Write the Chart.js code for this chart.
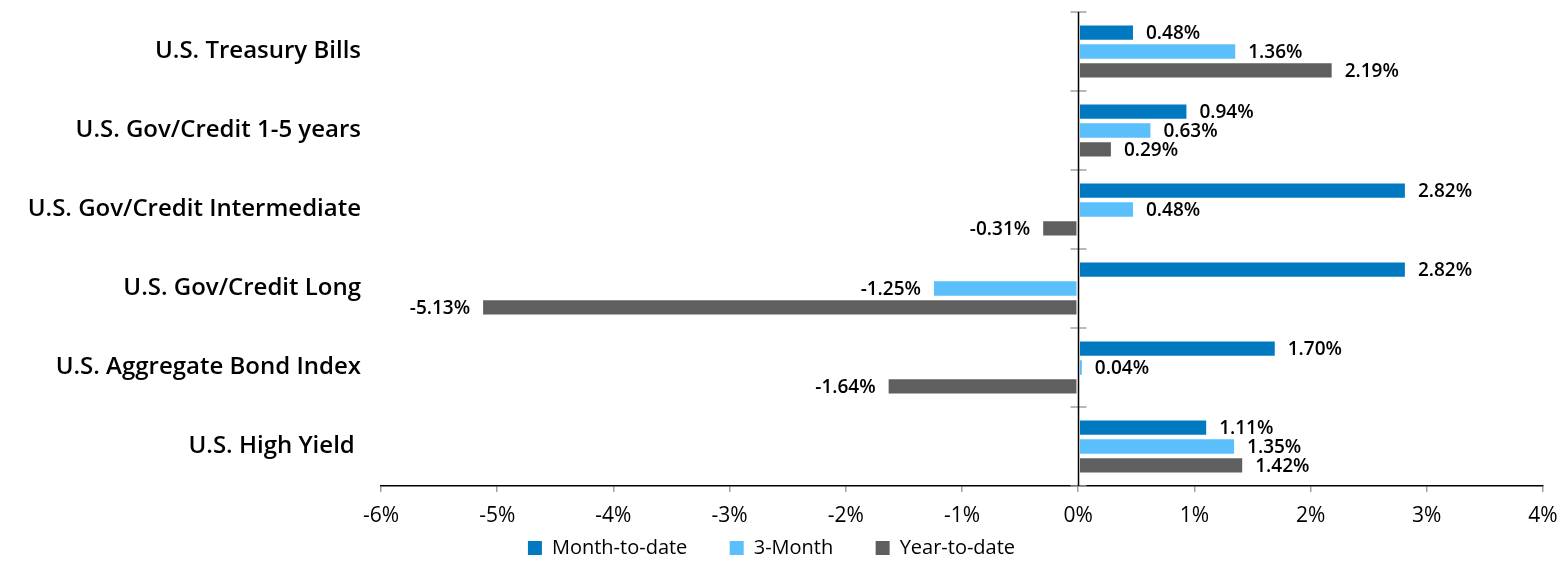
<!DOCTYPE html>
<html>
<head>
<meta charset="utf-8">
<script src="https://cdn.jsdelivr.net/npm/chart.js@4.4.1/dist/chart.umd.min.js"></script>
<style>
  html, body { margin: 0; padding: 0; background: #fff; }
  #wrap { width: 1565px; height: 565px; }
</style>
</head>
<body>
<div id="wrap"><canvas id="chart"></canvas></div>
<script>
// data
var categories = [
  "U.S. Treasury Bills",
  "U.S. Gov/Credit 1-5 years",
  "U.S. Gov/Credit Intermediate",
  "U.S. Gov/Credit Long",
  "U.S. Aggregate Bond Index",
  "U.S. High Yield "
];
var seriesNames = ["Month-to-date", "3-Month", "Year-to-date"];
var monthToDate = [0.48, 0.94, 2.82, 2.82, 1.70, 1.11];
var threeMonth = [1.36, 0.63, 0.48, -1.25, 0.04, 1.35];
var yearToDate = [2.19, 0.29, -0.31, -5.13, -1.64, 1.42];
var xTicks = [-6, -5, -4, -3, -2, -1, 0, 1, 2, 3, 4];

var fontFamily = "'Open Sans', 'Noto Sans', sans-serif";
Chart.defaults.font.family = fontFamily;
Chart.defaults.color = '#000';

// zero line with category ticks on both sides
var zeroAxis = {
  id: 'zeroAxis',
  afterDatasetsDraw: function(chart) {
    var ctx = chart.ctx, x = chart.scales.x, y = chart.scales.y;
    var x0 = Math.round(x.getPixelForValue(0)) + 0.5;
    ctx.save();
    ctx.strokeStyle = '#a0a0a0';
    ctx.lineWidth = 1.5;
    var n = categories.length;
    for (var i = 0; i <= n; i++) {
      var py = y.top + (y.bottom - y.top) * i / n;
      ctx.beginPath();
      ctx.moveTo(x0 - 8, py);
      ctx.lineTo(x0 + 8, py);
      ctx.stroke();
    }
    ctx.strokeStyle = '#000';
    ctx.lineWidth = 1.5;
    ctx.beginPath();
    ctx.moveTo(x0, y.top);
    ctx.lineTo(x0, y.bottom);
    ctx.stroke();
    ctx.restore();
  }
};

// value labels at the bar ends
var barLabels = {
  id: 'barLabels',
  afterDatasetsDraw: function(chart) {
    var ctx = chart.ctx;
    ctx.save();
    ctx.font = '600 19px ' + fontFamily;
    ctx.fillStyle = '#000';
    ctx.textBaseline = 'middle';
    chart.data.datasets.forEach(function(ds, di) {
      var meta = chart.getDatasetMeta(di);
      meta.data.forEach(function(bar, i) {
        var v = ds.data[i];
        var txt = v.toFixed(2) + '%';
        if (v < 0) {
          ctx.textAlign = 'right';
          ctx.fillText(txt, bar.x - 12, bar.y + 1);
        } else {
          ctx.textAlign = 'left';
          ctx.fillText(txt, bar.x + 12, bar.y + 1);
        }
      });
    });
    ctx.restore();
  }
};

function makeSet(label, data, color) {
  return {
    label: label,
    data: data,
    backgroundColor: color,
    borderColor: 'rgba(255,255,255,0.6)',
    borderWidth: 1,
    borderSkipped: false,
    barPercentage: 0.86,
    categoryPercentage: 0.72
  };
}

var canvas = document.getElementById('chart').getContext('2d');
window.bars = new Chart(canvas, {
  type: 'bar',
  data: {
    labels: categories,
    datasets: [
      makeSet(seriesNames[0], monthToDate, '#0079c1'),
      makeSet(seriesNames[1], threeMonth, '#5bbffb'),
      makeSet(seriesNames[2], yearToDate, '#5f5f5f')
    ]
  },
  options: {
    indexAxis: 'y',
    responsive: true,
    maintainAspectRatio: false,
    animation: false,
    layout: { padding: { top: 12, right: 22, bottom: -3, left: 0 } },
    scales: {
      x: {
        min: -6,
        max: 4,
        afterBuildTicks: function(s) { s.ticks = xTicks.map(function(v) { return { value: v }; }); },
        afterFit: function(s) { s.height = 46; s.paddingLeft = 0; s.paddingRight = 0; },
        ticks: {
          font: { size: 21, weight: 500 },
          padding: 11,
          callback: function(v) { return v + '%'; }
        },
        grid: { drawOnChartArea: false, drawTicks: true, tickLength: 6, color: '#a0a0a0', lineWidth: 1.5 },
        border: { display: true, color: '#000', width: 1.5 }
      },
      y: {
        afterFit: function(s) { s.width = 381; s.paddingTop = 0; s.paddingBottom = 0; },
        ticks: { font: { size: 24, weight: 600 }, padding: 12 },
        grid: { display: false },
        border: { display: false }
      }
    },
    plugins: {
      legend: {
        position: 'bottom',
        labels: {
          boxWidth: 14,
          boxHeight: 14,
          padding: 6,
          font: { size: 20, weight: 500 },
          color: '#000',
          generateLabels: function(chart) {
            var items = Chart.defaults.plugins.legend.labels.generateLabels(chart);
            items.forEach(function(it, i) {
              it.lineWidth = 0;
              if (i < items.length - 1) it.text = it.text + '       ';
            });
            return items;
          }
        }
      },
      tooltip: { enabled: false }
    }
  },
  plugins: [zeroAxis, barLabels]
});
</script>
</body>
</html>
